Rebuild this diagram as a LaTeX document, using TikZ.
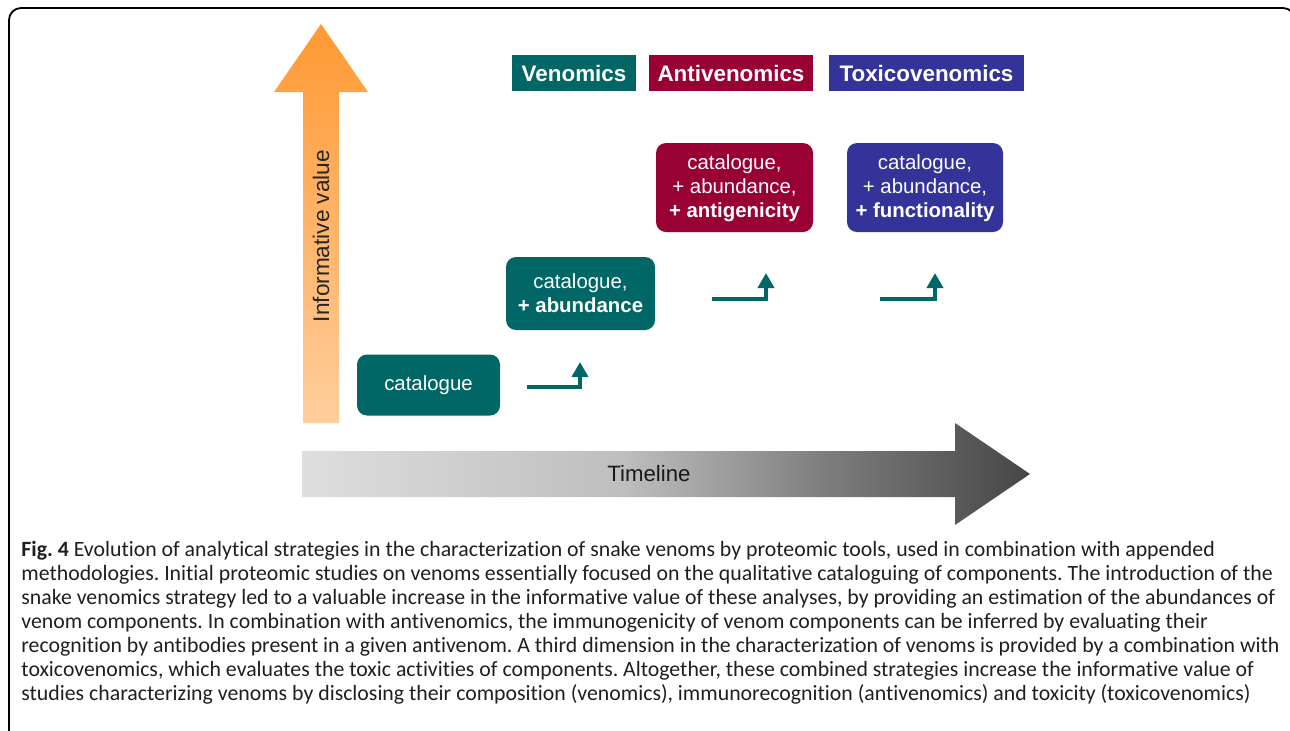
\documentclass[tikz,border=0pt]{standalone}
\usepackage{fontspec}
\setmainfont{Liberation Sans}
\newfontfamily\captionfont{Carlito}[Ligatures=NoCommon]
\usetikzlibrary{
    arrows.meta,
    positioning
}

\definecolor{venomteal}{RGB}{0,102,102}
\definecolor{antired}{RGB}{153,0,51}
\definecolor{toxiblue}{RGB}{51,51,153}
\definecolor{valuetop}{RGB}{255,153,51}
\definecolor{valuebot}{RGB}{255,206,156}
\definecolor{timelight}{RGB}{222,222,222}
\definecolor{timemid}{RGB}{190,190,190}
\definecolor{timedark}{RGB}{125,125,125}
\definecolor{timeend}{RGB}{70,70,70}
% visible part of a tikz shading runs from 25bp to 75bp
\pgfdeclarehorizontalshading{timefade}{100bp}{color(0bp)=(timelight); color(25bp)=(timelight); color(47bp)=(timemid); color(61bp)=(timedark); color(75bp)=(timeend); color(100bp)=(timeend)}

\tikzset{
    stagebox/.style={rounded corners=5pt, text=white, align=center,
        font=\fontsize{10.2}{12}\selectfont, inner sep=0pt},
    headbox/.style={text=white, font=\fontsize{11.2}{13}\selectfont\bfseries,
        inner sep=0pt, minimum height=18pt},
    stepup/.style={venomteal, line width=2.3pt,
        -{Triangle[width=8pt,length=7.5pt]}}
}

\begin{document}
\frenchspacing
\begin{tikzpicture}[x=0.5pt, y=-0.5pt]
    \useasboundingbox (0,0) rectangle (1290,730);
    \begin{scope}
        \clip (0,0) rectangle (1290,730);
        \draw[line width=0.9pt, rounded corners=6pt] (9,745) -- (9,8) -- (1295,8) -- (1295,745);
    \end{scope}

    % axes
    \shade[top color=valuetop, bottom color=valuebot]
        (303,423) -- (303,92) -- (274,92) -- (321,24) -- (368,92) -- (339,92) -- (339,423) -- cycle;
    \node[rotate=90, text=black!85, font=\fontsize{11.3}{13}\selectfont] (infoval) at (321,236) {Informative value};
    \shade[shading=timefade]
        (302,451) -- (955,451) -- (955,423) -- (1030,474) -- (955,525) -- (955,497) -- (302,497) -- cycle;
    \node[text=black!90, font=\fontsize{11.1}{13}\selectfont] (timeline) at (649,474) {Timeline};

    % strategies
    \node[headbox, fill=venomteal, minimum width=62pt] (hven) at (574,73) {Venomics};
    \node[headbox, fill=antired, minimum width=82pt] (hanti) at (731,73) {Antivenomics};
    \node[headbox, fill=toxiblue, minimum width=97.5pt] (htoxi) at (926.5,73) {Toxicovenomics};

    \node[stagebox, fill=venomteal, minimum width=71.5pt, minimum height=30.5pt] (cat) at (428.5,385) {catalogue};
    \node[stagebox, fill=venomteal, minimum width=74.5pt, minimum height=36.5pt] (abund) at (580.5,293.5) {catalogue,\\\textbf{+ abundance}};
    \node[stagebox, fill=antired, minimum width=78.5pt, minimum height=44.5pt, text depth=1.5pt] (antig) at (734.5,187.5) {catalogue,\\+ abundance,\\\textbf{+ antigenicity}};
    \node[stagebox, fill=toxiblue, minimum width=78pt, minimum height=44.5pt, text depth=1.5pt] (func) at (925,187.5) {catalogue,\\+ abundance,\\\textbf{+ functionality}};

    % step arrows
    \coordinate (s1a) at (527,387);
    \coordinate (s1b) at (580,362);
    \coordinate (s2a) at (712,299);
    \coordinate (s2b) at (766,273);
    \coordinate (s3a) at (880,299);
    \coordinate (s3b) at (935,273);
    \draw[stepup] (s1a) -| (s1b);
    \draw[stepup] (s2a) -| (s2b);
    \draw[stepup] (s3a) -| (s3b);

    % caption
    \node[anchor=north west, align=left, inner sep=0pt, text=black!88,
        font=\captionfont\fontsize{10.9}{12}\selectfont] (caption) at (21,541) {%
        \textbf{Fig. 4} Evolution of analytical strategies in the characterization of snake venoms by proteomic tools, used in combination with appended\\
        methodologies. Initial proteomic studies on venoms essentially focused on the qualitative cataloguing of components. The introduction of the\\
        snake venomics strategy led to a valuable increase in the informative value of these analyses, by providing an estimation of the abundances of\\
        venom components. In combination with antivenomics, the immunogenicity of venom components can be inferred by evaluating their\\
        recognition by antibodies present in a given antivenom. A third dimension in the characterization of venoms is provided by a combination with\\
        toxicovenomics, which evaluates the toxic activities of components. Altogether, these combined strategies increase the informative value of\\
        studies characterizing venoms by disclosing their composition (venomics), immunorecognition (antivenomics) and toxicity (toxicovenomics)};
\end{tikzpicture}
\end{document}
